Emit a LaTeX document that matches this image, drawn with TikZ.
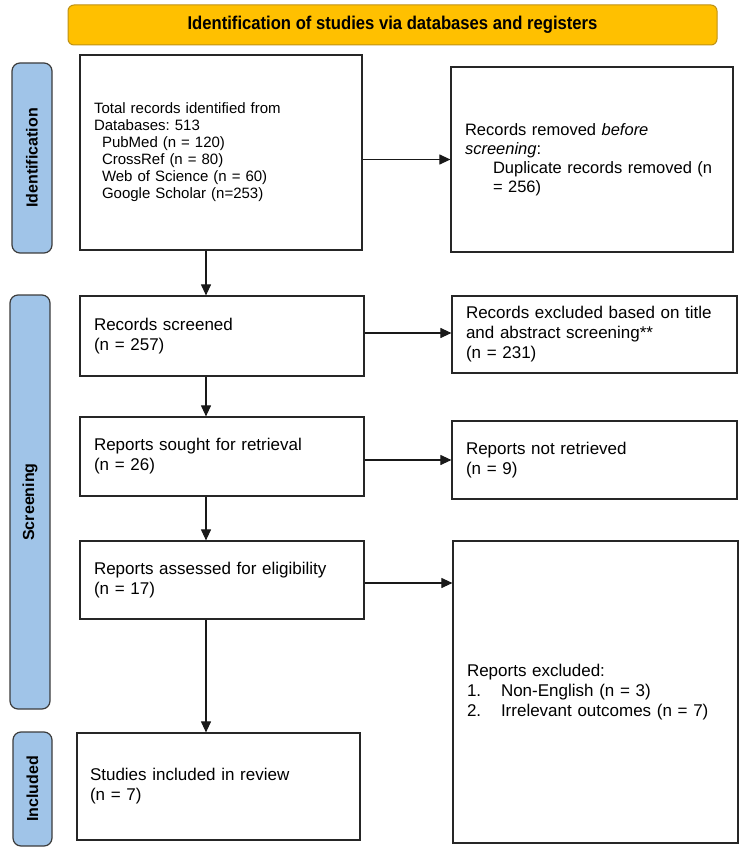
\documentclass[tikz,border=0pt]{standalone}
\usepackage{fontspec}
\setmainfont{Liberation Sans}
\newfontfamily\bannerfont[FakeStretch=0.9]{Liberation Sans}
\usetikzlibrary{arrows.meta,calc}
\definecolor{bannerfill}{RGB}{255,192,0}
\definecolor{bannerline}{RGB}{190,145,20}
\definecolor{sidefill}{RGB}{160,196,232}
\definecolor{sideline}{RGB}{60,60,60}
\tikzset{
  flowbox/.style={draw=black!85, line width=1.2pt, fill=white, rectangle, align=left,
    inner xsep=14pt, inner ysep=4pt, anchor=center},
  sidelabel/.style={draw=sideline, line width=1.2pt, fill=sidefill, rounded corners=8pt,
    rotate=90, font=\bfseries\fontsize{16}{19}\selectfont, inner sep=0pt},
  arr/.style={-{Triangle[length=11pt,width=10pt]}, line width=1.1pt, black!90},
  fa/.style={font=\fontsize{15}{17}\selectfont},
  fb/.style={font=\fontsize{16.5}{19}\selectfont},
  fc/.style={font=\fontsize{17}{20}\selectfont}
}
\begin{document}
\frenchspacing
\begin{tikzpicture}[x=1pt,y=-1pt]
\useasboundingbox (0,0) rectangle (750,858);
% banner
\node[draw=bannerline, line width=1pt, fill=bannerfill, rounded corners=6pt,
  minimum width=649pt, minimum height=40pt, inner sep=0pt,
  font=\bannerfont\bfseries\fontsize{18.5}{20}\selectfont] (banner) at (392.5,25)
  {Identification of studies via databases and registers};
% side labels
\node[sidelabel, minimum width=190pt, minimum height=40pt] (lid) at (32,158) {Identification};
\node[sidelabel, minimum width=414pt, minimum height=40pt] (lscr) at (30,502) {Screening};
\node[sidelabel, minimum width=114pt, minimum height=39pt] (linc) at (32.5,789) {Included};
% boxes
\node[flowbox, fa, minimum width=282pt, minimum height=195pt, text width=254pt] (b1) at (221,152.5)
  {Total records identified from\\
   Databases: 513\\
   \hspace*{8pt}PubMed (n = 120)\\
   \hspace*{8pt}CrossRef (n = 80)\\
   \hspace*{8pt}Web of Science (n = 60)\\
   \hspace*{8pt}Google Scholar (n=253)};
\node[flowbox, fb, minimum width=282pt, minimum height=185pt, text width=254pt] (b2) at (592,159.5)
  {Records removed \textit{before}\\
   \textit{screening}:\\
   \hspace*{28pt}Duplicate records removed (n\\
   \hspace*{28pt}= 256)\\[20pt]};
\node[flowbox, fc, minimum width=284pt, minimum height=80pt, text width=256pt] (rs) at (222,336)
  {Records screened\\(n = 257)};
\node[flowbox, fc, minimum width=285pt, minimum height=77pt, text width=257pt] (re) at (594.5,334.5)
  {Records excluded based on title\\and abstract screening**\\(n = 231)};
\node[flowbox, fc, minimum width=284pt, minimum height=79pt, text width=256pt] (rsought) at (222,456.5)
  {Reports sought for retrieval\\(n = 26)};
\node[flowbox, fc, minimum width=285pt, minimum height=78pt, text width=257pt] (nr) at (594.5,460)
  {Reports not retrieved\\(n = 9)};
\node[flowbox, fc, minimum width=284pt, minimum height=78pt, text width=256pt] (ra) at (222,580)
  {Reports assessed for eligibility\\(n = 17)};
\node[flowbox, fc, minimum width=285pt, minimum height=302pt, text width=257pt] (ex) at (595.5,692)
  {Reports excluded:\\
   \makebox[34pt][l]{1.}Non-English (n = 3)\\
   \makebox[34pt][l]{2.}Irrelevant outcomes (n = 7)};
\node[flowbox, fc, minimum width=283pt, minimum height=107pt, text width=257pt, inner xsep=13pt] (si) at (218.5,786.5)
  {Studies included in review\\(n = 7)\\[18pt]};
% arrows
\coordinate (ax) at (206,0);
\draw[arr] (b1.south -| ax) -- (rs.north -| ax);
\draw[arr] (rs.south -| ax) -- (rsought.north -| ax);
\draw[arr] (rsought.south -| ax) -- (ra.north -| ax);
\draw[arr] (ra.south -| ax) -- (si.north -| ax);
\draw[arr] (b1.east |- b2.west) -- (b2.west);
\draw[arr] ($(rs.east)+(0,-3)$) -- ($(rs.east -| re.west)+(0,-3)$);
\draw[arr] (rsought.east |- nr.west) -- (nr.west);
\draw[arr] ($(ra.east)+(0,3)$) -- ($(ra.east -| ex.west)+(0,3)$);
\end{tikzpicture}
\end{document}
